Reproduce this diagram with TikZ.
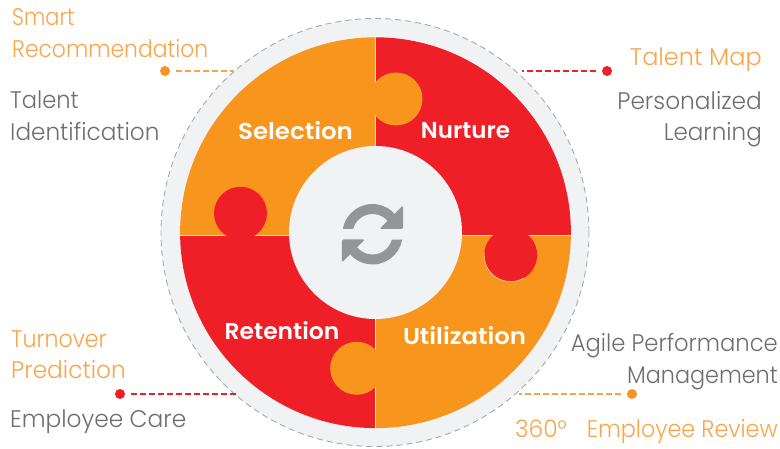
\documentclass[tikz,border=0pt]{standalone}
\usepackage{fontspec}
\setmainfont{Poppins}[UprightFont=* Light,BoldFont=* SemiBold]
\definecolor{orng}{HTML}{F8951D}
\definecolor{rd}{HTML}{EF1F28}
\definecolor{pale}{HTML}{F1F2F4}
\definecolor{gry}{HTML}{939598}
\definecolor{dashg}{HTML}{A7A9AC}
\definecolor{txtg}{HTML}{6D6E71}
\definecolor{txto}{HTML}{F9A44A}
\newcommand{\sx}[2]{\scalebox{#1}[1]{#2}}
\tikzset{
 x=1pt,y=1pt,
 sidelabel/.style={font=\fontsize{24}{28}\selectfont,inner sep=0pt},
 lft/.style={sidelabel,anchor=base west},
 rgt/.style={sidelabel,anchor=base east},
 grey/.style={text=txtg},
 oran/.style={text=txto},
 piece/.style={font=\bfseries\fontsize{23}{27}\selectfont,text=white,inner sep=0pt},
 dotnode/.style={circle,inner sep=0pt,minimum size=10pt},
 lead/.style={line width=1.1pt,dash pattern=on 5.5pt off 3.5pt,shorten <=6pt},
 seam/.style={white!70!orng,line width=0.8pt},
}
\begin{document}
\begin{tikzpicture}
\useasboundingbox (0,0) rectangle (780,448);
% outer ring
\node[circle,fill=pale,draw=dashg,dash pattern=on 6pt off 4pt,line width=0.9pt,minimum size=428pt,inner sep=0pt] (ring) at (375,215.5) {};
% quadrants
\coordinate (c) at (375.3,213);
\begin{scope}
\clip (375.5,215.3) circle[radius=195.4];
\fill[orng] (c) rectangle ++(-200,210);
\fill[rd] (c) rectangle ++(200,210);
\fill[orng] (c) rectangle ++(200,-210);
\fill[rd] (c) rectangle ++(-200,-210);
\draw[seam] (c) -- ++(0,210) (c) -- ++(0,-210) (c) -- ++(200,0) (c) -- ++(-200,0);
\end{scope}
% tabs
\fill[orng] (396,349) circle[radius=26.5];
\fill[rd] (240.5,234.7) circle[radius=26.5];
\fill[rd] (510.7,193) circle[radius=26.5];
\draw[white!70!orng,line width=0.5pt] (510.7,193) ++(175:26.6) arc[start angle=175,end angle=300,radius=26.6];
\fill[orng] (356.7,79.7) circle[radius=26.5];
% hub
\node[circle,fill=pale,minimum size=173pt,inner sep=0pt] (hub) at (375.5,215.5) {};
% refresh icon
\begin{scope}[gry]
\fill (342.9,219) arc[start angle=170.4,end angle=40,radius=30]
  -- ++(-7.66,-6.43) arc[start angle=40,end angle=165.5,radius=20] -- cycle;
\fill[rounded corners=1.5pt] (403.2,242.8) -- (403.2,219) -- (379.5,219) -- cycle;
\fill (402.1,208.5) arc[start angle=-9.6,end angle=-140,radius=30]
  -- ++(7.66,6.43) arc[start angle=-140,end angle=-14.5,radius=20] -- cycle;
\fill[rounded corners=1.5pt] (341.8,185.5) -- (341.8,208.5) -- (365,208.5) -- cycle;
\end{scope}
% piece labels
\node[piece] (sel) at (295.5,317) {\sx{1.065}{Selection}};
\node[piece] (nur) at (465.5,317) {Nurture};
\node[piece] (ret) at (282,117) {\sx{1.02}{Retention}};
\node[piece] (uti) at (464.5,112) {\sx{1.06}{Utilization}};
% side texts
\node[lft,oran] (t1) at (12,422) {\sx{.87}{Smart}};
\node[lft,oran] (t2) at (12,390) {\sx{.91}{Recommendation}};
\node[lft,grey] (t3) at (10,339) {\sx{.94}{Talent}};
\node[lft,grey] (t4) at (10,307) {\sx{.965}{Identification}};
\node[rgt,oran] (t5) at (762,382) {Talent Map};
\node[rgt,grey] (t6) at (762,338) {\sx{.97}{Personalized}};
\node[rgt,grey] (t7) at (762,307) {\sx{.96}{Learning}};
\node[lft,oran] (t8) at (11,101) {\sx{.92}{Turnover}};
\node[lft,oran] (t9) at (11,70) {\sx{.97}{Prediction}};
\node[lft,grey] (t10) at (10,21) {\sx{.97}{Employee Care}};
\node[rgt,grey] (t11) at (778,97) {\sx{.945}{Agile Performance}};
\node[rgt,grey] (t12) at (778,65) {\sx{.93}{Management}};
\node[rgt,oran] (t13) at (778,11) {\sx{.97}{360°}\hspace{20pt}\sx{.93}{Employee Review}};
% leaders
\node[dotnode,fill=orng] (d1) at (165,377) {};
\node[dotnode,fill=rd] (d2) at (607,377) {};
\node[dotnode,fill=rd] (d3) at (120,54) {};
\node[dotnode,fill=orng] (d4) at (632,54) {};
\coordinate (e1) at (234,377);
\coordinate (e2) at (522,377);
\coordinate (e3) at (236,54);
\coordinate (e4) at (519,54);
\draw[lead,txto] (d1) -- (e1);
\draw[lead,rd] (d2) -- (e2);
\draw[lead,rd] (d3) -- (e3);
\draw[lead,txto] (d4) -- (e4);
\end{tikzpicture}
\end{document}
